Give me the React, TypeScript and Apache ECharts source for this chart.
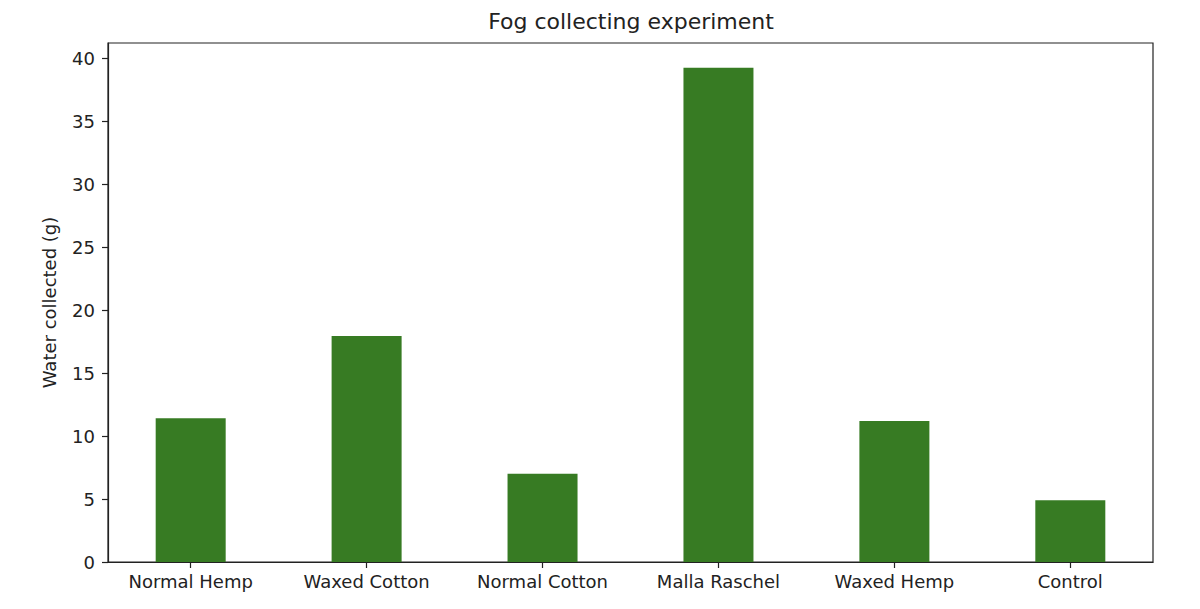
import React, { useEffect, useRef } from 'react';
import * as echarts from 'echarts';

const categories = ['Normal Hemp', 'Waxed Cotton', 'Normal Cotton', 'Malla Raschel', 'Waxed Hemp', 'Control'];
const waterCollected = [11.42, 17.97, 7.01, 39.28, 11.2, 4.91];
const yTicks = [0, 5, 10, 15, 20, 25, 30, 35, 40];
const xTicks = categories.map((_, i) => i);

const FONT = 'DejaVu Sans';
const INK = '#222222';

const App: React.FC = () => {
  const chartRef = useRef<HTMLDivElement>(null);

  useEffect(() => {
    if (!chartRef.current) return;
    const chart = echarts.init(chartRef.current, undefined, { renderer: 'svg' });

    const option: echarts.EChartsOption = {
      animation: false,
      backgroundColor: '#ffffff',
      textStyle: { fontFamily: FONT, color: INK },
      title: {
        text: 'Fog collecting experiment',
        left: 631,
        top: 10,
        padding: 0,
        textAlign: 'center',
        textStyle: { fontFamily: FONT, fontSize: 22, fontWeight: 'normal', color: INK },
      },
      grid: {
        left: 108,
        right: 47,
        top: 43,
        bottom: 47,
        show: true,
        borderColor: INK,
        borderWidth: 1.2,
        containLabel: false,
      },
      xAxis: {
        type: 'value',
        min: -0.47,
        max: 5.47,
        splitLine: { show: false },
        axisLine: { show: true, onZero: false, lineStyle: { color: INK, width: 1.2 } },
        axisTick: { show: true, length: 6, customValues: xTicks, lineStyle: { color: INK, width: 1.2 } },
        axisLabel: {
          customValues: xTicks,
          margin: 10,
          fontFamily: FONT,
          fontSize: 18,
          color: INK,
          formatter: (v: number) => categories[Math.round(v)] ?? '',
        },
      },
      yAxis: {
        type: 'value',
        min: 0,
        max: 41.25,
        name: 'Water collected (g)',
        nameLocation: 'middle',
        nameGap: 50,
        nameTextStyle: { fontFamily: FONT, fontSize: 18, color: INK },
        splitLine: { show: false },
        axisLine: { show: true, onZero: false, lineStyle: { color: INK, width: 1.2 } },
        axisTick: { show: true, length: 6, customValues: yTicks, lineStyle: { color: INK, width: 1.2 } },
        axisLabel: {
          customValues: yTicks,
          margin: 13,
          fontFamily: FONT,
          fontSize: 18,
          color: INK,
        },
      },
      series: [
        {
          type: 'bar',
          barWidth: 70,
          itemStyle: { color: '#377b23' },
          data: waterCollected.map((v, i) => [i, v]),
        },
      ],
    };

    chart.setOption(option);
    const handleResize = () => chart.resize();
    window.addEventListener('resize', handleResize);
    return () => {
      window.removeEventListener('resize', handleResize);
      chart.dispose();
    };
  }, []);

  return <div ref={chartRef} style={{ width: 1200, height: 609, margin: -8 }} />;
};

export default App;
